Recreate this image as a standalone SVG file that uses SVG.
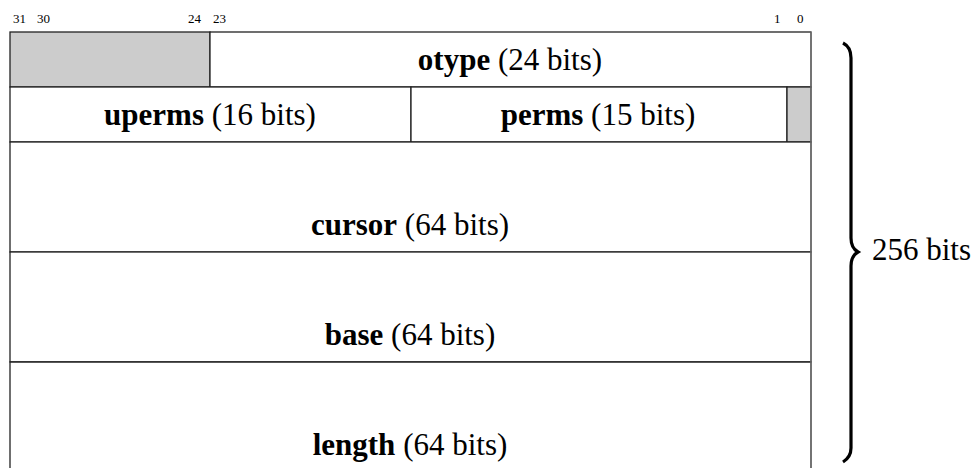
<svg xmlns="http://www.w3.org/2000/svg" width="978" height="468" viewBox="0 0 978 468">
<style>
.bit{font-family:"Liberation Serif",serif;font-size:13px;fill:#000}
.lab{font-family:"Liberation Serif",serif;font-size:31px;fill:#000;text-anchor:middle}
.lab tspan.b{font-weight:bold}
.cell{fill:#fff;stroke:#222;stroke-width:1.3}
.gray{fill:#cccccc;stroke:#222;stroke-width:1.3}
</style>
<rect width="978" height="468" fill="#fff"/>
<g id="bits">
<text class="bit" x="13" y="23">31</text>
<text class="bit" x="37" y="23">30</text>
<text class="bit" x="188" y="23">24</text>
<text class="bit" x="213" y="23">23</text>
<text class="bit" x="774" y="23">1</text>
<text class="bit" x="797" y="23">0</text>
</g>
<g id="reserved-top"><rect class="gray" x="10" y="32" width="200" height="55"/></g>
<g id="otype"><rect class="cell" x="210" y="32" width="601" height="55"/>
<text class="lab" x="510" y="70"><tspan class="b">otype</tspan> (24 bits)</text></g>
<g id="uperms"><rect class="cell" x="10" y="87" width="401" height="55"/>
<text class="lab" x="210" y="125"><tspan class="b">uperms</tspan> (16 bits)</text></g>
<g id="perms"><rect class="cell" x="411" y="87" width="376" height="55"/>
<text class="lab" x="598" y="125"><tspan class="b">perms</tspan> (15 bits)</text></g>
<g id="reserved-bit"><rect class="gray" x="787" y="87" width="24" height="55"/></g>
<g id="cursor"><rect class="cell" x="10" y="142" width="801" height="110"/>
<text class="lab" x="410" y="235"><tspan class="b">cursor</tspan> (64 bits)</text></g>
<g id="base"><rect class="cell" x="10" y="252" width="801" height="110"/>
<text class="lab" x="410" y="345"><tspan class="b">base</tspan> (64 bits)</text></g>
<g id="length"><path d="M10 475 V362 H811 V475" fill="#fff" stroke="#222" stroke-width="1.3"/>
<text class="lab" x="410" y="455"><tspan class="b">length</tspan> (64 bits)</text></g>
<g id="right-edge"><line x1="811" y1="32" x2="811" y2="468" stroke="#777" stroke-width="1.3"/></g>
<g id="brace">
<path d="M843 43 Q851 47 851 58 V238 Q851 248 858 252 Q851 256 851 266 V448 Q851 457 843 462" fill="none" stroke="#000" stroke-width="3.2"/>
<text x="872" y="260" style="font-family:'Liberation Serif',serif;font-size:31px">256 bits</text>
</g>
</svg>
